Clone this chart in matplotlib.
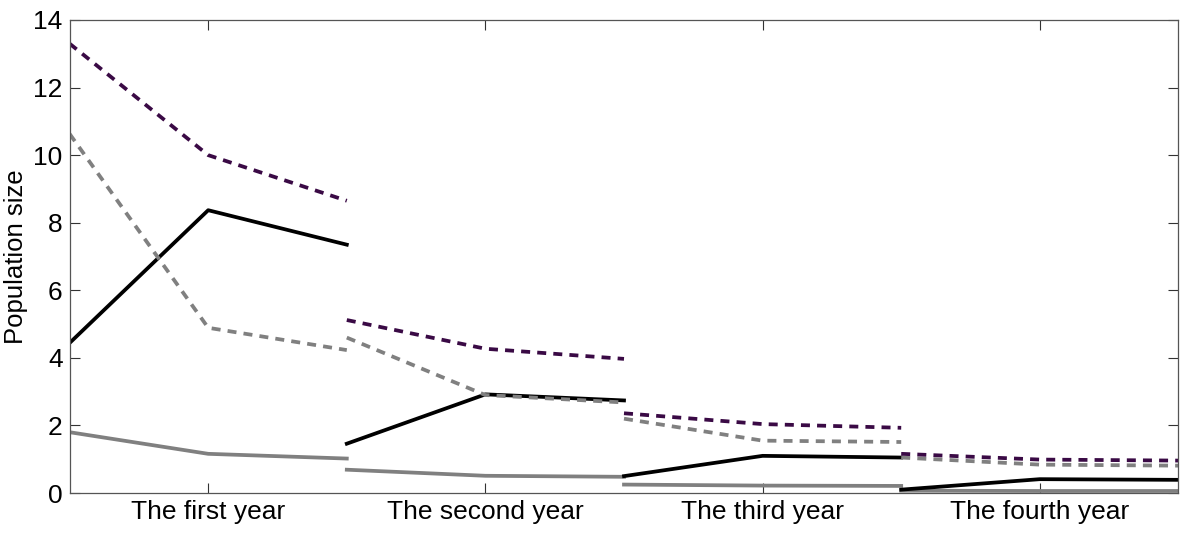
import numpy as np
import matplotlib.pyplot as plt

years = ['The first year', 'The second year', 'The third year', 'The fourth year']

# three readings per year (start, middle, end)
purple_dashed = [[13.3, 10.0, 8.65], [5.12, 4.27, 3.97], [2.36, 2.04, 1.93], [1.16, 0.99, 0.96]]
grey_dashed = [[10.63, 4.89, 4.23], [4.6, 2.9, 2.68], [2.2, 1.55, 1.51], [1.05, 0.84, 0.81]]
black_solid = [[4.44, 8.37, 7.35], [1.46, 2.92, 2.74], [0.5, 1.1, 1.05], [0.1, 0.41, 0.39]]
grey_solid = [[1.8, 1.16, 1.02], [0.69, 0.51, 0.48], [0.25, 0.22, 0.21], [0.07, 0.06, 0.06]]

plt.rcParams['font.family'] = ['Liberation Sans', 'DejaVu Sans']

fig = plt.figure(figsize=(12, 5.4), dpi=100)
ax = fig.add_axes([0.058, 0.087, 0.924, 0.876])

styles = [
    (grey_solid, '#808080', '-'),
    (black_solid, 'black', '-'),
    (grey_dashed, '#808080', (0, (2.4, 1.9))),
    (purple_dashed, '#3a0a45', (0, (2.4, 1.9))),
]
for series, color, ls in styles:
    for i, vals in enumerate(series):
        xs = np.array([0, 1, 2]) + 2 * i
        ax.plot(xs, vals, color=color, linestyle=ls, linewidth=2.7)

ax.set_xlim(0, 8)
ax.set_ylim(0, 14)
ax.set_xticks([1, 3, 5, 7])
ax.set_xticklabels(years)
ax.set_yticks(range(0, 15, 2))
ax.set_ylabel('Population size', fontsize=18.5, labelpad=4)
ax.tick_params(direction='in', length=7, width=0.8, labelsize=19, colors='#333333',
               labelcolor='black', top=True, right=True, pad=5)
for s in ax.spines.values():
    s.set_color('#555555')
    s.set_linewidth(0.9)

fig.savefig('out.png', dpi=100)
